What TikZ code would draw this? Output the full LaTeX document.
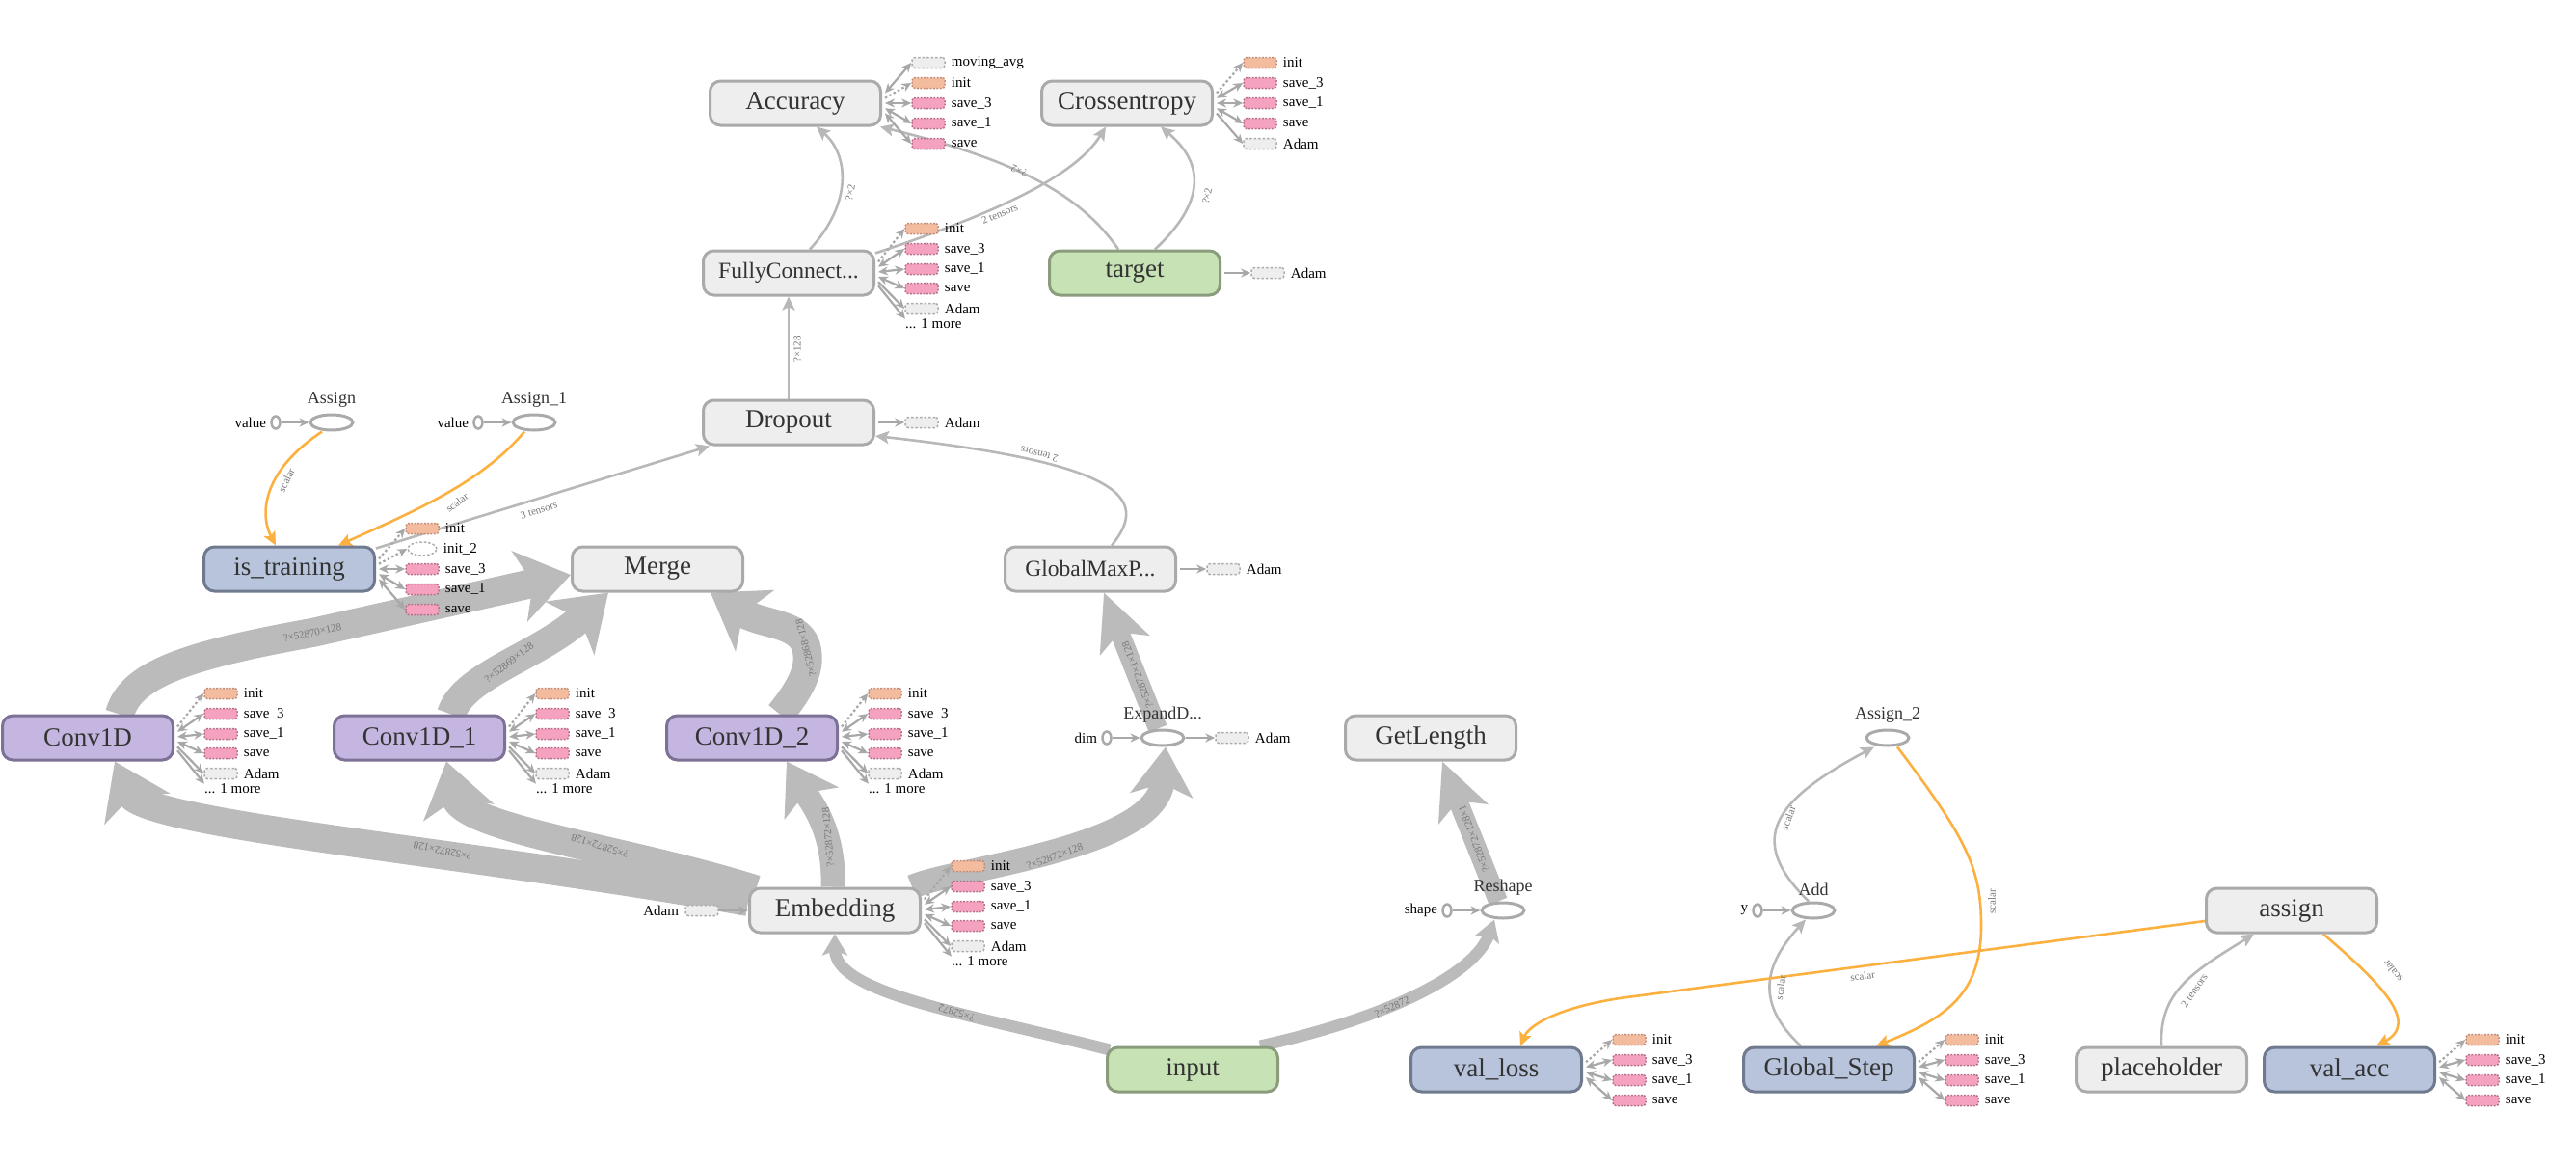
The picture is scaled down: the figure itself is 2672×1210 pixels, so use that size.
\documentclass[tikz,border=0pt]{standalone}
\usepackage{fontspec}
\setmainfont{Liberation Serif}
\usetikzlibrary{arrows.meta,calc,shapes.geometric,backgrounds}
\pgfdeclarelayer{paper}
\pgfsetlayers{paper,background,main}
\definecolor{gfill}{HTML}{EEEEEE}
\definecolor{gline}{HTML}{AAAAAA}
\definecolor{grfill}{HTML}{C7E2B4}
\definecolor{grline}{HTML}{8A9C7C}
\definecolor{pfill}{HTML}{C4B6E0}
\definecolor{pline}{HTML}{7E7196}
\definecolor{bfill}{HTML}{B8C4DC}
\definecolor{bline}{HTML}{6F7A8F}
\definecolor{txt}{HTML}{333333}
\definecolor{edgec}{HTML}{BBBBBB}
\definecolor{edgethinc}{HTML}{B8B8B8}
\definecolor{orng}{HTML}{FCB040}
\definecolor{sidearrc}{HTML}{A8A8A8}
\definecolor{initfill}{HTML}{F4BC9F}
\definecolor{initline}{HTML}{C08C78}
\definecolor{savefill}{HTML}{F4A2BF}
\definecolor{saveline}{HTML}{B46E88}
\definecolor{adfill}{HTML}{EEEEEE}
\definecolor{adline}{HTML}{ACACAC}
\definecolor{lbl}{HTML}{777777}
\tikzset{
  mainbase/.style={rectangle, rounded corners=11pt, minimum width=177pt, minimum height=46pt,
    line width=3pt, inner sep=0pt, text=txt, font=\fontsize{27}{30}\selectfont},
  greyn/.style={mainbase, draw=gline, fill=gfill},
  greenn/.style={mainbase, draw=grline, fill=grfill},
  purplen/.style={mainbase, draw=pline, fill=pfill},
  bluen/.style={mainbase, draw=bline, fill=bfill},
  longname/.style={font=\fontsize{23.5}{26}\selectfont},
  opnode/.style={ellipse, minimum width=44pt, minimum height=16pt, inner sep=0pt, line width=3pt, draw=gline, fill=white},
  constn/.style={ellipse, minimum width=9pt, minimum height=13pt, inner sep=0pt, line width=2.5pt, draw=gline, fill=white},
  oplabel/.style={font=\fontsize{18}{20}\selectfont, text=txt, inner sep=0pt, anchor=south},
  sidetxt/.style={font=\fontsize{15}{17}\selectfont, text=black, inner sep=0pt},
  sbase/.style={rectangle, rounded corners=3pt, minimum width=34pt, minimum height=11pt, inner sep=0pt, line width=1.5pt},
  side-init/.style={sbase, dash pattern=on 1.8pt off 1.6pt, draw=initline, fill=initfill},
  side-save/.style={sbase, dash pattern=on 1.8pt off 1.6pt, draw=saveline, fill=savefill},
  side-grey/.style={sbase, dash pattern=on 2.5pt off 2pt, draw=adline, fill=adfill},
  side-mavg/.style={side-grey},
  side-init2/.style={ellipse, minimum width=30pt, minimum height=14pt, inner sep=0pt, line width=1.5pt, dash pattern=on 2.5pt off 2pt, draw=adline, fill=white},
  sidebox/.style={side-#1},
  sarr/.style={draw=sidearrc, line width=2.2pt},
  arr-init/.style={sarr, dash pattern=on 2.5pt off 2.5pt, arrows={-Stealth[length=10pt,width=9pt]}},
  arr-init2/.style={arr-init},
  arr-save/.style={sarr, arrows={Stealth[length=10pt,width=9pt]-Stealth[length=10pt,width=9pt]}},
  arr-mavg/.style={arr-save},
  arr-grey/.style={sarr, arrows={-Stealth[length=10pt,width=9pt]}},
  sidearrow/.style={arr-#1},
  thinedge/.style={draw=edgethinc, line width=2.6pt, arrows={-Stealth[length=14pt,width=13pt,inset=3pt]}},
  refedge/.style={draw=orng, line width=2.6pt, arrows={-Stealth[length=14pt,width=13pt,inset=3pt]}},
  bandL/.style={draw=edgec, line width=30pt, line join=round, arrows={-Stealth[length=54pt,width=74pt,inset=14pt]}},
  bandM/.style={draw=edgec, line width=25pt, line join=round, arrows={-Stealth[length=50pt,width=64pt,inset=12pt]}},
  bandE/.style={draw=edgec, line width=20pt, arrows={-Stealth[length=58pt,width=54pt,inset=14pt]}},
  bandS/.style={draw=edgec, line width=12pt, arrows={-Stealth[length=22pt,width=26pt,inset=5pt]}},
  elabel/.style={font=\fontsize{11}{12}\selectfont, text=lbl, inner sep=1pt},
}
\newcommand\sidelist[2]{%
  \foreach \kd/\tx/\dy [count=\ii] in {#2} {%
    \node[sidebox/.expand once=\kd] (#1-b\ii) at ($(#1.center)+(138,\dy)$) {};
    \node[sidetxt, anchor=west] (#1-t\ii) at ([xshift=6pt]#1-b\ii.east) {\tx};
    \draw[sidearrow/.expand once=\kd] ($(#1.east)+(3,{0.25*\dy})$) -- (#1-b\ii.west);
  }%
}
\newcommand\moreitem[2]{%
  \node[sidetxt, anchor=west] (#1-more) at ($(#1.center)+(121,#2)$) {... 1 more};
  \draw[arr-grey] ($(#1.east)+(3,{0.25*#2})$) -- (#1-more.north west);
}
\begin{document}
\begin{tikzpicture}[x=1pt,y=-1pt]
\begin{pgfonlayer}{paper}
\path[use as bounding box, fill=white] (0,0) rectangle (2672,1210);
\end{pgfonlayer}

% main nodes
\node[greyn] (acc) at (825,107) {Accuracy};
\node[greyn] (xent) at (1169,107) {Crossentropy};
\node[greyn, longname] (fc) at (818,283) {FullyConnect...};
\node[greenn] (target) at (1177,283) {target};
\node[greyn] (drop) at (818,438) {Dropout};
\node[bluen] (istr) at (300,590) {is\_training};
\node[greyn] (merge) at (682,590) {Merge};
\node[greyn, longname] (gmp) at (1131,590) {GlobalMaxP...};
\node[purplen] (c0) at (91,765) {Conv1D};
\node[purplen] (c1) at (435,765) {Conv1D\_1};
\node[purplen] (c2) at (780,765) {Conv1D\_2};
\node[greyn] (getlen) at (1484,765) {GetLength};
\node[greyn] (emb) at (866,944) {Embedding};
\node[greenn] (input) at (1237,1109) {input};
\node[bluen] (vloss) at (1552,1109) {val\_loss};
\node[bluen] (gstep) at (1897,1109) {Global\_Step};
\node[greyn] (ph) at (2242,1109) {placeholder};
\node[bluen] (vacc) at (2437,1109) {val\_acc};
\node[greyn] (asg) at (2377,944) {assign};

% op ellipses
\node[opnode] (e0) at (344,438) {};
\node[oplabel] (e0l) at ([yshift=6pt]e0.north) {Assign};
\node[opnode] (e1) at (554,438) {};
\node[oplabel] (e1l) at ([yshift=6pt]e1.north) {Assign\_1};
\node[opnode] (expE) at (1206,765) {};
\node[oplabel] (expEl) at ([yshift=6pt]expE.north) {ExpandD...};
\node[opnode] (reshE) at (1559,944) {};
\node[oplabel] (reshEl) at ([yshift=6pt]reshE.north) {Reshape};
\node[opnode] (addE) at (1881,944) {};
\node[oplabel] (addEl) at ([yshift=6pt]addE.north) {Add};
\node[opnode] (asg2E) at (1958,765) {};
\node[oplabel] (asg2El) at ([yshift=6pt]asg2E.north) {Assign\_2};

% constants
\node[constn] (k0) at (286,438) {};
\node[sidetxt, anchor=east] (k0t) at ([xshift=-4pt]k0.west) {value};
\draw[arr-grey] (k0) -- (e0);
\node[constn] (k1) at (496,438) {};
\node[sidetxt, anchor=east] (k1t) at ([xshift=-4pt]k1.west) {value};
\draw[arr-grey] (k1) -- (e1);
\node[constn] (k2) at (1148,765) {};
\node[sidetxt, anchor=east] (k2t) at ([xshift=-4pt]k2.west) {dim};
\draw[arr-grey] (k2) -- (expE);
\node[constn] (k3) at (1501,944) {};
\node[sidetxt, anchor=east] (k3t) at ([xshift=-4pt]k3.west) {shape};
\draw[arr-grey] (k3) -- (reshE);
\node[constn] (k4) at (1823,944) {};
\node[sidetxt, anchor=east] (k4t) at ([xshift=-4pt]k4.west) {y};
\draw[arr-grey] (k4) -- (addE);

% ExpandD Adam
\node[side-grey] (expadam) at (1278,765) {};
\node[sidetxt, anchor=west] (expadamt) at ([xshift=6pt]expadam.east) {Adam};
\draw[arr-grey] (expE.east) -- (expadam.west);
% Embedding left Adam
\node[side-grey] (embadam) at (728,944) {};
\node[sidetxt, anchor=east] (embadamt) at ([xshift=-6pt]embadam.west) {Adam};
\draw[arr-grey] (embadam.east) -- (emb.west);

% side lists
\sidelist{acc}{mavg/moving\_avg/-42, init/init/-21, save/save\_3/0, save/save\_1/21, save/save/42}
\sidelist{xent}{init/init/-42, save/save\_3/-21, save/save\_1/0, save/save/21, grey/Adam/42}
\sidelist{fc}{init/init/-46, save/save\_3/-25, save/save\_1/-4, save/save/16, grey/Adam/37}
\moreitem{fc}{53}
\sidelist{target}{grey/Adam/0}
\sidelist{drop}{grey/Adam/0}
\sidelist{gmp}{grey/Adam/0}
\sidelist{istr}{init/init/-42, init2/init\_2/-21, save/save\_3/0, save/save\_1/21, save/save/42}
\sidelist{c0}{init/init/-46, save/save\_3/-25, save/save\_1/-4, save/save/16, grey/Adam/37}
\moreitem{c0}{53}
\sidelist{c1}{init/init/-46, save/save\_3/-25, save/save\_1/-4, save/save/16, grey/Adam/37}
\moreitem{c1}{53}
\sidelist{c2}{init/init/-46, save/save\_3/-25, save/save\_1/-4, save/save/16, grey/Adam/37}
\moreitem{c2}{53}
\sidelist{emb}{init/init/-46, save/save\_3/-25, save/save\_1/-4, save/save/16, grey/Adam/37}
\moreitem{emb}{53}
\sidelist{vloss}{init/init/-31, save/save\_3/-10, save/save\_1/11, save/save/32}
\sidelist{gstep}{init/init/-31, save/save\_3/-10, save/save\_1/11, save/save/32}
\sidelist{vacc}{init/init/-31, save/save\_3/-10, save/save\_1/11, save/save/32}

% edges
\begin{pgfonlayer}{background}
% thick bands
\draw[bandL] ([xshift=33pt]c0.north) .. controls (135,700) and (190,680) .. (324,656) -- ([yshift=-6pt]merge.west);
\draw[bandL] ([xshift=33pt]c1.north) .. controls (480,700) and (560,680) .. ([xshift=-51pt]merge.south);
\draw[bandL] ([xshift=29pt]c2.north) .. controls (832,712) and (842,692) .. (836,670) .. controls (828,645) and (790,648) .. ([xshift=55pt]merge.south);
\draw[bandL] ([yshift=9pt]emb.west) .. controls (500,885) and (150,855) .. ([xshift=28pt]c0.south);
\draw[bandL] ([xshift=8pt,yshift=-3pt]emb.north west) .. controls (650,880) and (480,860) .. ([xshift=28pt]c1.south);
\draw[bandM] ([xshift=-2pt]emb.north) .. controls (866,860) and (840,830) .. ([xshift=36pt]c2.south);
\draw[bandM] ([xshift=-10pt]emb.north east) .. controls (990,900) and (1200,880) .. ([xshift=3pt]expE.south);
\draw[bandE] ([xshift=-5pt]expE.north) -- ([xshift=14pt]gmp.south);
\draw[bandE] ([xshift=-5pt]reshE.north) -- ([xshift=12pt]getlen.south);
\draw[bandS] ([xshift=4pt,yshift=-4pt]input.north west) .. controls (1000,1050) and (866,1030) .. (emb.south);
\draw[bandS] ([xshift=-20pt]input.north east) .. controls (1440,1055) and (1530,1010) .. ([xshift=-9pt]reshE.south);
% thin edges
\draw[thinedge] ([xshift=22pt]fc.north) .. controls (885,210) and (880,160) .. ([xshift=22pt]acc.south);
\draw[thinedge] ([yshift=-4pt]fc.north east) .. controls (1060,212) and (1120,175) .. ([xshift=-22pt]xent.south);
\draw[thinedge] ([xshift=-17pt]target.north) .. controls (1120,200) and (1050,165) .. ([xshift=-2pt]acc.south east);
\draw[thinedge] ([xshift=21pt]target.north) .. controls (1250,210) and (1250,170) .. ([xshift=35pt]xent.south);
\draw[thinedge] (drop.north) -- (fc.south);
\draw[thinedge] ([yshift=-3pt]istr.north east) -- ([xshift=-82pt]drop.south);
\draw[thinedge] ([xshift=22pt]gmp.north) .. controls (1195,515) and (1160,480) .. ([yshift=-14pt]drop.east);
\draw[refedge] ([xshift=-10pt]e0.south) .. controls (270,490) and (270,535) .. ([xshift=-14pt]istr.north);
\draw[refedge] ([xshift=-10pt]e1.south) .. controls (500,500) and (430,530) .. ([xshift=51pt]istr.north);
\draw[thinedge] ([xshift=-5pt]addE.north) .. controls (1810,870) and (1840,830) .. ([xshift=-14pt]asg2E.south);
\draw[thinedge] ([xshift=-29pt]gstep.north) .. controls (1820,1040) and (1830,1000) .. ([xshift=-8pt]addE.south);
\draw[refedge] ([xshift=10pt]asg2E.south) .. controls (2040,870) and (2055,900) .. (2055,960) .. controls (2055,1030) and (2020,1055) .. ([xshift=49pt]gstep.north);
\draw[refedge] ([yshift=-11pt]asg.west) -- (1680,1035) .. controls (1610,1046) and (1585,1065) .. ([xshift=25pt]vloss.north);
\draw[thinedge] (ph.north) .. controls (2240,1030) and (2270,1010) .. ([xshift=-39pt]asg.south);
\draw[refedge] ([xshift=33pt]asg.south) .. controls (2470,1020) and (2510,1060) .. ([xshift=28pt]vacc.north);
\end{pgfonlayer}

% edge labels
\node[elabel, rotate=80] (L1) at (882,200) {?×2};
\node[elabel, rotate=22] (L2) at (1037,222) {2 tensors};
\node[elabel, rotate=159] (L3) at (1057,177) {?×2};
\node[elabel, rotate=78] (L4) at (1252,203) {?×2};
\node[elabel, rotate=90] (L5) at (827,362) {?×128};
\node[elabel, rotate=17] (L6) at (559,529) {3 tensors};
\node[elabel, rotate=64] (L7b) at (297,498) {scalar};
\node[elabel, rotate=166] (L7) at (1078,471) {2 tensors};
\node[elabel, rotate=37] (L9) at (474,521) {scalar};
\node[elabel, rotate=12] (L10) at (324,656) {?×52870×128};
\node[elabel, rotate=38] (L11) at (528,687) {?×52869×128};
\node[elabel, rotate=104] (L12) at (836,672) {?×52868×128};
\node[elabel, rotate=168] (L13) at (459,882) {?×52872×128};
\node[elabel, rotate=163] (L14) at (622,877) {?×52872×128};
\node[elabel, rotate=95] (L15) at (859,868) {?×52872×128};
\node[elabel, rotate=20] (L16) at (1094,888) {?×52872×128};
\node[elabel, rotate=111] (L17) at (1180,700) {?×52872×1×128};
\node[elabel, rotate=111] (L18) at (1529,870) {?×52872×128×1};
\node[elabel, rotate=163] (L19) at (992,1050) {?×52872};
\node[elabel, rotate=24] (L20) at (1444,1044) {?×52872};
\node[elabel, rotate=70] (L21) at (1855,848) {scalar};
\node[elabel, rotate=82] (L22) at (1847,1024) {scalar};
\node[elabel, rotate=90] (L23) at (2066,935) {scalar};
\node[elabel, rotate=7.5] (L24) at (1932,1012) {scalar};
\node[elabel, rotate=55] (L25) at (2276,1027) {2 tensors};
\node[elabel, rotate=128] (L26) at (2482,1007) {scalar};
\end{tikzpicture}
\end{document}
